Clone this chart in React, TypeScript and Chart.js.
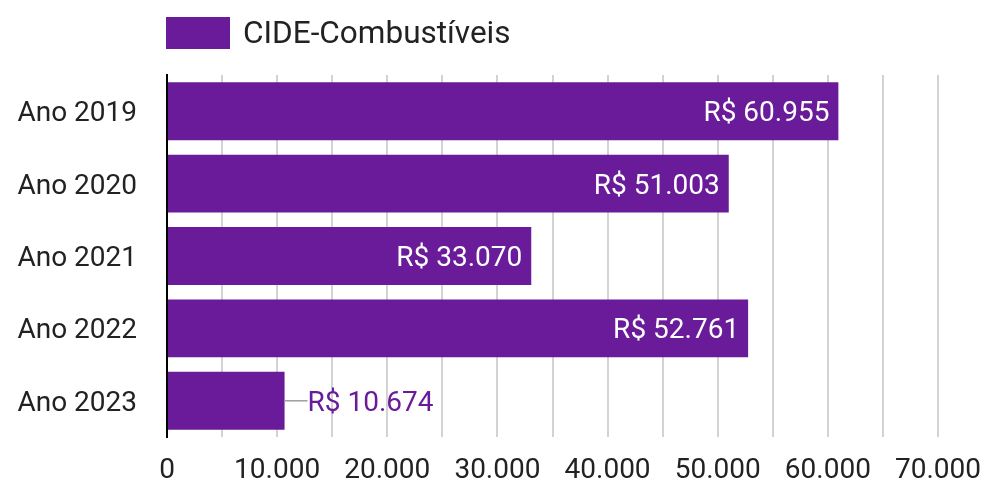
import React, { useEffect, useRef } from "react";
import { Chart, registerables } from "chart.js";

Chart.register(...registerables);

const categories = ["Ano 2019", "Ano 2020", "Ano 2021", "Ano 2022", "Ano 2023"];
const values = [60955, 51003, 33070, 52761, 10674];
const seriesName = "CIDE-Combustíveis";
const xMax = 70000;
const xStep = 5000;

const PURPLE = "#6A1B9A";
const FONT = "Roboto, 'Noto Sans', sans-serif";
const FS = 28;

function fmt(n: number): string {
  const s = Math.round(n).toString();
  return s.replace(/\B(?=(\d{3})+(?!\d))/g, ".");
}

const labelPlugin = {
  id: "barLabels",
  afterDatasetsDraw(chart: any) {
    const ctx = chart.ctx;
    const meta = chart.getDatasetMeta(0);
    ctx.save();
    ctx.font = `${FS}px ${FONT}`;
    ctx.textBaseline = "middle";
    meta.data.forEach((bar: any, i: number) => {
      const txt = "R$ " + fmt(values[i]);
      const w = ctx.measureText(txt).width;
      const barW = bar.x - bar.base;
      if (barW > w + 20) {
        ctx.fillStyle = "#ffffff";
        ctx.textAlign = "right";
        ctx.fillText(txt, bar.x - 9, bar.y + 3);
      } else {
        ctx.strokeStyle = "#9e9e9e";
        ctx.lineWidth = 1.5;
        ctx.beginPath();
        ctx.moveTo(bar.x, bar.y);
        ctx.lineTo(bar.x + 23, bar.y);
        ctx.stroke();
        ctx.fillStyle = PURPLE;
        ctx.textAlign = "left";
        ctx.fillText(txt, bar.x + 23, bar.y + 3);
      }
    });
    // category labels on the y axis
    const yScale = chart.scales.y;
    ctx.fillStyle = "#222222";
    ctx.textAlign = "right";
    categories.forEach((c, i) => {
      ctx.fillText(c, yScale.right - 30, yScale.getPixelForTick(i) + 3);
    });
    ctx.restore();
  },
};

const legendPlugin = {
  id: "customLegend",
  afterDraw(chart: any) {
    const ctx = chart.ctx;
    const left = chart.chartArea.left - 1;
    ctx.save();
    ctx.fillStyle = PURPLE;
    ctx.fillRect(left, 17, 64, 32);
    ctx.fillStyle = "#222222";
    ctx.font = `31.5px ${FONT}`;
    ctx.textBaseline = "middle";
    ctx.textAlign = "left";
    ctx.fillText(seriesName, left + 77, 35);
    ctx.restore();
  },
};

export default function App() {
  const ref = useRef<HTMLCanvasElement>(null);
  useEffect(() => {
    document.body.style.margin = "0";
    const chart = new Chart(ref.current!, {
      type: "bar",
      data: {
        labels: categories,
        datasets: [
          {
            label: seriesName,
            data: values,
            backgroundColor: PURPLE,
            borderWidth: 0,
            barPercentage: 0.8,
            categoryPercentage: 1,
          },
        ],
      },
      options: {
        indexAxis: "y",
        animation: false,
        responsive: false,
        maintainAspectRatio: false,
        layout: { padding: { top: 75, right: 47, left: 0, bottom: 0 } },
        plugins: {
          legend: { display: false },
          tooltip: { enabled: false },
        },
        scales: {
          x: {
            min: 0,
            max: xMax,
            afterFit: (s: any) => {
              s.height = 46;
              s.paddingRight = 0;
              s.paddingLeft = 0;
            },
            ticks: {
              stepSize: xStep,
              autoSkip: false,
              maxRotation: 0,
              padding: 17,
              color: "#222222",
              font: { family: FONT, size: FS },
              callback: (v: any) => (Number(v) % 10000 === 0 ? fmt(Number(v)) : ""),
            },
            grid: {
              drawTicks: false,
              lineWidth: 2,
              color: (c: any) => (c.tick && c.tick.value === 0 ? "rgba(0,0,0,0)" : "#d3d3d3"),
            },
            border: { display: false },
          },
          y: {
            afterFit: (s: any) => {
              s.width = 167;
            },
            ticks: {
              display: false,
            },
            grid: { display: false, drawTicks: false },
            border: { display: true, color: "#000000", width: 2 },
          },
        },
      },
      plugins: [labelPlugin, legendPlugin],
    });
    return () => chart.destroy();
  }, []);
  return (
    <div style={{ position: "absolute", left: 0, top: 0, width: 985, height: 483, background: "#fff" }}>
      <canvas ref={ref} width={985} height={483} style={{ width: 985, height: 483 }} />
    </div>
  );
}
